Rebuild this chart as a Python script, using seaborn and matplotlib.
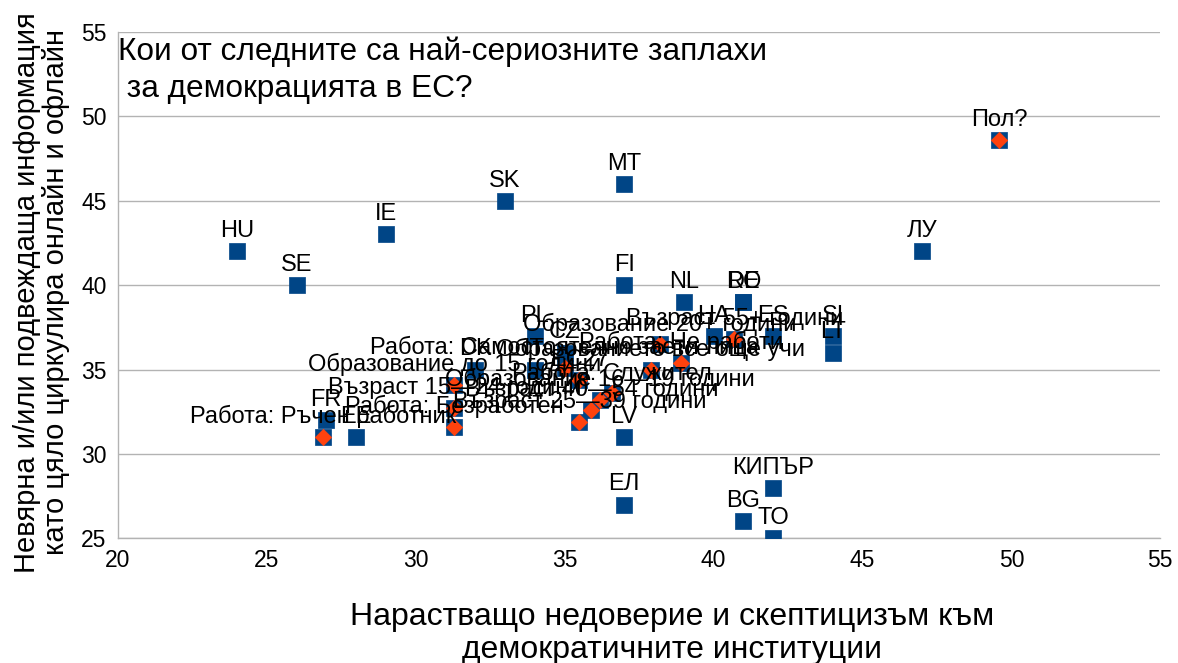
import matplotlib
matplotlib.use("Agg")
import matplotlib.pyplot as plt
import seaborn as sns
import pandas as pd

# countries (blue squares)
country_labels = ["HU", "SE", "IE", "SK", "MT", "FI", "NL", "RO", "DE", "ЛУ",
                  "HA", "ES", "SI", "LT", "PL", "CZ", "DK", "IT", "FR", "ЕЕ",
                  "LV", "ЕЛ", "BG", "КИПЪР", "ТО"]
country_x = [24, 26, 29, 33, 37, 37, 39, 41, 41, 47,
             40, 42, 44, 44, 34, 35, 32, 34, 27, 28,
             37, 37, 41, 42, 42]
country_y = [42, 40, 43, 45, 46, 40, 39, 39, 39, 42,
             37, 37, 37, 36, 37, 36, 35, 35, 32, 31,
             31, 27, 26, 28, 25]

# socio-demographic groups (red diamonds)
group_labels = ["Пол?", "Работа: Ръчен работник", "Образование до 15 години",
                "Възраст 15—24 години", "Работа: Безработен",
                "Работа: Самостоятелно заети лица", "ЕС27", "Работа: Служител",
                "Образование 16—19 години", "Възраст 25—39 години",
                "Възраст 40—54 години", "Образование 20+ години",
                "Образованието все още учи", "Работа: Не работи",
                "Възраст 55+ години"]
group_x = [49.6, 26.9, 31.3, 31.3, 31.3, 35.0, 35.5, 36.6, 36.2, 35.5,
           35.9, 38.2, 37.9, 38.9, 40.7]
group_y = [48.6, 31.0, 34.1, 32.7, 31.6, 35.1, 34.4, 33.6, 33.2, 31.9,
           32.6, 36.5, 35.0, 35.4, 36.8]

x_ticks = [20, 25, 30, 35, 40, 45, 50, 55]
y_ticks = [25, 30, 35, 40, 45, 50, 55]

BLUE = "#004586"
RED = "#ff420e"

countries = pd.DataFrame({"label": country_labels, "x": country_x, "y": country_y})
groups = pd.DataFrame({"label": group_labels, "x": group_x, "y": group_y})
all_pts = pd.concat([countries, groups], ignore_index=True)

sns.set_style("white")
plt.rcParams["font.family"] = ["Liberation Sans", "DejaVu Sans"]
plt.rcParams["text.color"] = "black"
plt.rcParams["axes.labelcolor"] = "black"
plt.rcParams["xtick.color"] = "black"
plt.rcParams["ytick.color"] = "black"

fig, ax = plt.subplots(figsize=(11.78, 6.63), dpi=100)
fig.subplots_adjust(left=0.1, right=0.985, top=0.952, bottom=0.188)

# every row gets a blue square, the groups get a red diamond on top
sns.scatterplot(data=all_pts, x="x", y="y", marker="s", s=125, color=BLUE,
                edgecolor=BLUE, linewidth=0.5, ax=ax, zorder=3)
sns.scatterplot(data=groups, x="x", y="y", marker="D", s=70, color=RED,
                edgecolor=RED, linewidth=0.5, ax=ax, zorder=4)

for _, r in all_pts.iterrows():
    ax.annotate(r["label"], (r["x"], r["y"]), xytext=(0, 14.5),
                textcoords="offset points", ha="center", va="center",
                fontsize=17, color="black", zorder=5)

ax.set_xlim(20, 55)
ax.set_ylim(25, 55)
ax.set_xticks(x_ticks)
ax.set_yticks(y_ticks)
ax.tick_params(axis="both", labelsize=16.5, length=5, color="#b3b3b3",
               labelcolor="black", direction="out", pad=3)
ax.yaxis.grid(True, color="#b3b3b3", linewidth=1)
ax.xaxis.grid(False)
ax.set_axisbelow(True)
for side in ["top", "right"]:
    ax.spines[side].set_visible(False)
for side in ["left", "bottom"]:
    ax.spines[side].set_color("#b3b3b3")
    ax.spines[side].set_linewidth(1)

ax.set_xlabel("Нарастващо недоверие и скептицизъм към\nдемократичните институции",
              fontsize=23, linespacing=1.15)
ax.xaxis.set_label_coords(0.532, -0.125)
ax.xaxis.label.set_va("top")
ax.set_ylabel("Невярна и/или подвеждаща информация\nкато цяло циркулира онлайн и офлайн",
              fontsize=21, linespacing=1.05)
ax.yaxis.set_label_coords(-0.073, 0.486)
ax.yaxis.label.set_va("center")

ax.text(0.0, 0.99, "Кои от следните са най-сериозните заплахи\n за демокрацията в ЕС?",
        transform=ax.transAxes, ha="left", va="top", fontsize=22.8,
        linespacing=1.3, zorder=6)

fig.savefig("out.png", dpi=100)
